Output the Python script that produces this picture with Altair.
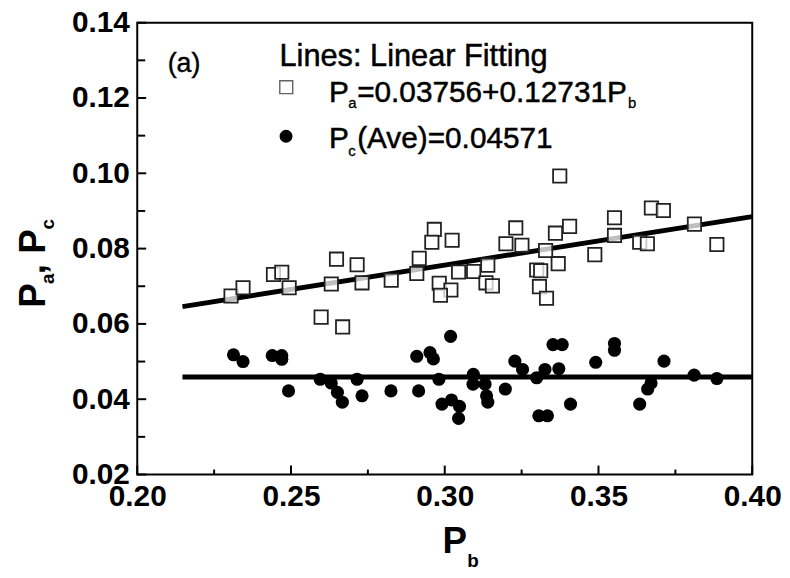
import altair as alt
import pandas as pd

# ---------------- data ----------------
pb_a = [0.2305, 0.2344, 0.2443, 0.2470, 0.2494, 0.2598, 0.2631, 0.2648, 0.2668, 0.2715,
        0.2731, 0.2826, 0.2909, 0.2917, 0.2966, 0.2958, 0.3024, 0.2982, 0.3020, 0.2986,
        0.3045, 0.3094, 0.3140, 0.3134, 0.3155, 0.3199, 0.3231, 0.3251, 0.3299, 0.3312,
        0.3308, 0.3331, 0.3328, 0.3360, 0.3406, 0.3369, 0.3374, 0.3488, 0.3552, 0.3552,
        0.3634, 0.3659, 0.3672, 0.3711, 0.3812, 0.3885]
pa = [0.0674, 0.0696, 0.0731, 0.0737, 0.0696, 0.0618, 0.0706, 0.0772, 0.0592, 0.0757,
      0.0709, 0.0716, 0.0734, 0.0774, 0.0851, 0.0817, 0.0822, 0.0708, 0.0690, 0.0676,
      0.0738, 0.0739, 0.0756, 0.0709, 0.0701, 0.0813, 0.0855, 0.0809, 0.0743, 0.0741,
      0.0699, 0.0668, 0.0795, 0.0841, 0.0859, 0.0760, 0.0993, 0.0784, 0.0882, 0.0835,
      0.0817, 0.0813, 0.0908, 0.0901, 0.0865, 0.0811]

pb_c = [0.2313, 0.2344, 0.2439, 0.2470, 0.2470, 0.2492, 0.2595, 0.2631, 0.2651, 0.2667,
        0.2715, 0.2731, 0.2825, 0.2915, 0.2909, 0.2952, 0.2963, 0.3019, 0.2981, 0.2991,
        0.3022, 0.3048, 0.3045, 0.3093, 0.3092, 0.3131, 0.3136, 0.3140, 0.3197, 0.3228,
        0.3253, 0.3299, 0.3326, 0.3306, 0.3334, 0.3352, 0.3382, 0.3371, 0.3409, 0.3491,
        0.3552, 0.3552, 0.3634, 0.3660, 0.3671, 0.3713, 0.3811, 0.3885]
pc = [0.0518, 0.0500, 0.0516, 0.0516, 0.0506, 0.0422, 0.0453, 0.0443, 0.0418, 0.0392,
      0.0453, 0.0409, 0.0422, 0.0422, 0.0514, 0.0524, 0.0507, 0.0567, 0.0453, 0.0387,
      0.0398, 0.0381, 0.0349, 0.0466, 0.0440, 0.0440, 0.0409, 0.0392, 0.0427, 0.0501,
      0.0479, 0.0457, 0.0479, 0.0356, 0.0356, 0.0545, 0.0545, 0.0481, 0.0387, 0.0498,
      0.0548, 0.0530, 0.0387, 0.0427, 0.0443, 0.0501, 0.0464, 0.0455]

fit_x = [0.2147, 0.40]
fit_a = [0.0646, 0.0885]
ave_c = [0.0459, 0.0459]

x_major = [0.20, 0.25, 0.30, 0.35, 0.40]
x_minor = [0.225, 0.275, 0.325, 0.375]
y_major = [0.02, 0.04, 0.06, 0.08, 0.10, 0.12, 0.14]
y_minor = [0.03, 0.05, 0.07, 0.09, 0.11, 0.13]

legend_title = "Lines: Linear Fitting"
panel_label = "(a)"
leg_a = ["P", "a", "=0.03756+0.12731P", "b"]
leg_c = ["P", "c", "(Ave)=0.04571"]
x_title = ["P", "b"]
y_title = ["P", "a", ", P", "c"]

# ---------------- layout ----------------
W, H = 620, 455.5
OX, OY = 138.3, 20.5   # page position of plot origin
FONT = "Liberation Sans"

xs = alt.Scale(domain=[0.20, 0.40], nice=False, zero=False)
ys = alt.Scale(domain=[0.02, 0.14], nice=False, zero=False)

df_a = pd.DataFrame({"pb": pb_a, "v": pa})
df_c = pd.DataFrame({"pb": pb_c, "v": pc})
df_fit = pd.DataFrame({
    "pb": fit_x + fit_x,
    "v": fit_a + ave_c,
    "s": ["a", "a", "c", "c"],
})

xenc = alt.X("pb:Q", scale=xs,
             axis=alt.Axis(values=x_major, format=".2f", title=None, domain=False,
                           ticks=False, grid=False, labelFont=FONT, labelFontSize=30,
                           labelFontWeight="bold", labelColor="black", labelPadding=7,
                           labelFlush=False, labelOverlap=False, labelBound=False))
yenc = alt.Y("v:Q", scale=ys,
             axis=alt.Axis(values=y_major, format=".2f", title=None, domain=False,
                           ticks=False, grid=False, labelFont=FONT, labelFontSize=30,
                           labelFontWeight="bold", labelColor="black", labelPadding=8,
                           labelFlush=False, labelOverlap=False, labelBound=False))

lines = alt.Chart(df_fit).mark_line(color="black", strokeWidth=5).encode(
    x=xenc, y=yenc, detail="s:N")

squares = alt.Chart(df_a).mark_square(
    fill="white", fillOpacity=0.75, stroke="#222222", strokeWidth=1.8, size=180
).encode(x=alt.X("pb:Q", scale=xs), y=alt.Y("v:Q", scale=ys))

circles = alt.Chart(df_c).mark_circle(color="black", opacity=1, size=175).encode(
    x=alt.X("pb:Q", scale=xs), y=alt.Y("v:Q", scale=ys))

# inward ticks
xt_major = alt.Chart(pd.DataFrame({"t": x_major})).mark_rule(color="black", strokeWidth=2).encode(
    x=alt.X("t:Q", scale=xs), y=alt.value(H), y2=alt.value(H - 9))
xt_minor = alt.Chart(pd.DataFrame({"t": x_minor})).mark_rule(color="black", strokeWidth=2).encode(
    x=alt.X("t:Q", scale=xs), y=alt.value(H), y2=alt.value(H - 5))
yt_major = alt.Chart(pd.DataFrame({"t": y_major})).mark_rule(color="black", strokeWidth=2).encode(
    y=alt.Y("t:Q", scale=ys), x=alt.value(0), x2=alt.value(9))
yt_minor = alt.Chart(pd.DataFrame({"t": y_minor})).mark_rule(color="black", strokeWidth=2).encode(
    y=alt.Y("t:Q", scale=ys), x=alt.value(0), x2=alt.value(8))


def txt(s, px, py, size, bold=False, angle=0, stroke=0.0):
    kw = {}
    if stroke > 0:
        kw = {"stroke": "black", "strokeWidth": stroke}
    return alt.Chart(pd.DataFrame({"t": [s]})).mark_text(
        align="left", baseline="alphabetic", font=FONT, fontSize=size,
        fontWeight="bold" if bold else "normal", angle=angle, color="black", **kw
    ).encode(x=alt.value(px - OX), y=alt.value(py - OY), text="t:N")


texts = [
    txt(panel_label, 169, 70.5, 27, stroke=0.4),
    txt(legend_title, 281.7, 64, 31, stroke=0.5),
    txt(leg_a[0], 331.7, 100, 30, stroke=0.5),
    txt(leg_a[1], 351, 106.5, 15, stroke=0.3),
    txt(leg_a[2], 360, 100, 30, stroke=0.5),
    txt(leg_a[3], 633, 106.5, 15, stroke=0.3),
    txt(leg_c[0], 331.7, 147, 30, stroke=0.5),
    txt(leg_c[1], 351, 155, 15, stroke=0.3),
    txt(leg_c[2], 360, 147, 30, stroke=0.5),
    # x title
    txt(x_title[0], 446, 555, 37, bold=True),
    txt(x_title[1], 471, 569, 19, bold=True),
    # y title (rotated)
    txt(y_title[0], 45, 308, 37, bold=True, angle=270),
    txt(y_title[1], 54, 284, 19, bold=True, angle=270),
    txt(y_title[2], 45, 274, 37, bold=True, angle=270),
    txt(y_title[3], 54, 229, 19, bold=True, angle=270),
]

leg_sq = alt.Chart(pd.DataFrame({"t": [0]})).mark_square(
    fill="white", stroke="#222222", strokeWidth=1.4, size=170
).encode(x=alt.value(288.5 - OX), y=alt.value(85.5 - OY))
leg_ci = alt.Chart(pd.DataFrame({"t": [0]})).mark_circle(color="black", opacity=1, size=170).encode(
    x=alt.value(288.3 - OX), y=alt.value(135 - OY))

chart = alt.layer(
    lines, squares, circles, xt_major, xt_minor, yt_major, yt_minor, leg_sq, leg_ci, *texts
).properties(
    width=W, height=H,
    padding={"left": OX - 8, "top": OY - 8, "right": 30, "bottom": 98},
    autosize=alt.AutoSizeParams(type="none"),
    background="white",
).configure_view(stroke="black", strokeWidth=2)

chart.save("out.html", embed_options={"renderer": "svg", "actions": False})
